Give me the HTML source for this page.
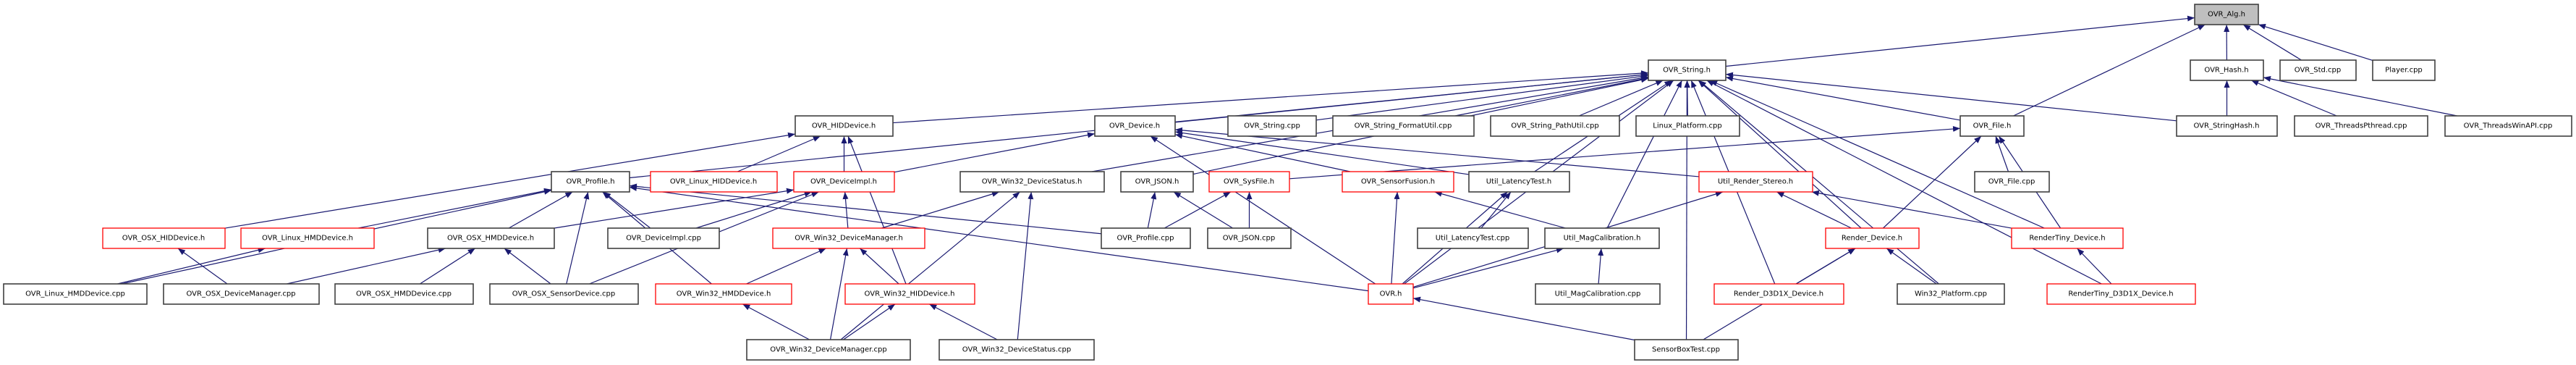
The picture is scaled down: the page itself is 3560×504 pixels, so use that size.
<!DOCTYPE html>
<html><head><meta charset="utf-8"><style>
html,body{margin:0;padding:0;background:#fff;width:3560px;height:504px;overflow:hidden}
svg{display:block}
text{font-family:"DejaVu Sans","Liberation Sans",sans-serif;font-size:10px;text-anchor:middle;dominant-baseline:central;fill:#000}
.b{fill:#fff;stroke:#404040;stroke-width:1.6}
.r{fill:#fff;stroke:#ff0000;stroke-width:1.3}
.g{fill:#bfbfbf;stroke:#404040;stroke-width:1.6}
</style></head><body>
<svg id="s" width="3560" height="504" viewBox="0 0 3560 504" xmlns="http://www.w3.org/2000/svg">
<defs><marker id="a" viewBox="0 0 10 8" refX="10" refY="4" markerWidth="10" markerHeight="8" markerUnits="userSpaceOnUse" orient="auto"><path d="M0,0L10,4L0,8z" fill="#191970"/></marker></defs>
<g id="e" fill="none" stroke="#191970" stroke-width="1.2"></g>
<g id="n">
<rect class="g" x="3033" y="6" width="88" height="28"/><text x="3077" y="20">OVR_Alg.h</text>
<rect class="b" x="2278" y="83" width="107" height="28"/><text x="2331" y="97">OVR_String.h</text>
<rect class="b" x="3027" y="83" width="101" height="28"/><text x="3077" y="97">OVR_Hash.h</text>
<rect class="b" x="3151" y="83" width="105" height="28"/><text x="3203" y="97">OVR_Std.cpp</text>
<rect class="b" x="3279" y="83" width="86" height="28"/><text x="3322" y="97">Player.cpp</text>
<rect class="b" x="1099" y="160" width="135" height="28"/><text x="1166" y="174">OVR_HIDDevice.h</text>
<rect class="b" x="1513" y="160" width="111" height="28"/><text x="1568" y="174">OVR_Device.h</text>
<rect class="b" x="1697" y="160" width="122" height="28"/><text x="1758" y="174">OVR_String.cpp</text>
<rect class="b" x="1842" y="160" width="195" height="28"/><text x="1939" y="174">OVR_String_FormatUtil.cpp</text>
<rect class="b" x="2060" y="160" width="178" height="28"/><text x="2149" y="174">OVR_String_PathUtil.cpp</text>
<rect class="b" x="2261" y="160" width="143" height="28"/><text x="2332" y="174">Linux_Platform.cpp</text>
<rect class="b" x="2709" y="160" width="88" height="28"/><text x="2753" y="174">OVR_File.h</text>
<rect class="b" x="3008" y="160" width="139" height="28"/><text x="3077" y="174">OVR_StringHash.h</text>
<rect class="b" x="3171" y="160" width="184" height="28"/><text x="3263" y="174">OVR_ThreadsPthread.cpp</text>
<rect class="b" x="3379" y="160" width="175" height="28"/><text x="3466" y="174">OVR_ThreadsWinAPI.cpp</text>
<rect class="b" x="762" y="237" width="108" height="28"/><text x="816" y="251">OVR_Profile.h</text>
<rect class="r" x="899" y="237" width="175" height="28"/><text x="986" y="251">OVR_Linux_HIDDevice.h</text>
<rect class="r" x="1097" y="237" width="139" height="28"/><text x="1166" y="251">OVR_DeviceImpl.h</text>
<rect class="b" x="1327" y="237" width="199" height="28"/><text x="1426" y="251">OVR_Win32_DeviceStatus.h</text>
<rect class="b" x="1549" y="237" width="100" height="28"/><text x="1599" y="251">OVR_JSON.h</text>
<rect class="r" x="1671" y="237" width="111" height="28"/><text x="1726" y="251">OVR_SysFile.h</text>
<rect class="r" x="1855" y="237" width="154" height="28"/><text x="1932" y="251">OVR_SensorFusion.h</text>
<rect class="b" x="2030" y="237" width="139" height="28"/><text x="2099" y="251">Util_LatencyTest.h</text>
<rect class="r" x="2348" y="237" width="157" height="28"/><text x="2426" y="251">Util_Render_Stereo.h</text>
<rect class="b" x="2729" y="237" width="103" height="28"/><text x="2780" y="251">OVR_File.cpp</text>
<rect class="r" x="142" y="315" width="169" height="28"/><text x="226" y="329">OVR_OSX_HIDDevice.h</text>
<rect class="r" x="333" y="315" width="184" height="28"/><text x="425" y="329">OVR_Linux_HMDDevice.h</text>
<rect class="b" x="591" y="315" width="175" height="28"/><text x="678" y="329">OVR_OSX_HMDDevice.h</text>
<rect class="b" x="840" y="315" width="154" height="28"/><text x="917" y="329">OVR_DeviceImpl.cpp</text>
<rect class="r" x="1068" y="315" width="210" height="28"/><text x="1173" y="329">OVR_Win32_DeviceManager.h</text>
<rect class="b" x="1522" y="315" width="123" height="28"/><text x="1583" y="329">OVR_Profile.cpp</text>
<rect class="b" x="1669" y="315" width="115" height="28"/><text x="1726" y="329">OVR_JSON.cpp</text>
<rect class="b" x="1959" y="315" width="153" height="28"/><text x="2035" y="329">Util_LatencyTest.cpp</text>
<rect class="b" x="2135" y="315" width="158" height="28"/><text x="2214" y="329">Util_MagCalibration.h</text>
<rect class="r" x="2523" y="315" width="129" height="28"/><text x="2587" y="329">Render_Device.h</text>
<rect class="r" x="2780" y="315" width="154" height="28"/><text x="2857" y="329">RenderTiny_Device.h</text>
<rect class="b" x="5" y="392" width="198" height="28"/><text x="104" y="406">OVR_Linux_HMDDevice.cpp</text>
<rect class="b" x="226" y="392" width="215" height="28"/><text x="333" y="406">OVR_OSX_DeviceManager.cpp</text>
<rect class="b" x="463" y="392" width="191" height="28"/><text x="558" y="406">OVR_OSX_HMDDevice.cpp</text>
<rect class="b" x="677" y="392" width="205" height="28"/><text x="779" y="406">OVR_OSX_SensorDevice.cpp</text>
<rect class="r" x="906" y="392" width="188" height="28"/><text x="1000" y="406">OVR_Win32_HMDDevice.h</text>
<rect class="r" x="1168" y="392" width="179" height="28"/><text x="1257" y="406">OVR_Win32_HIDDevice.h</text>
<rect class="r" x="1891" y="392" width="62" height="28"/><text x="1922" y="406">OVR.h</text>
<rect class="b" x="2122" y="392" width="172" height="28"/><text x="2208" y="406">Util_MagCalibration.cpp</text>
<rect class="r" x="2369" y="392" width="179" height="28"/><text x="2458" y="406">Render_D3D1X_Device.h</text>
<rect class="b" x="2622" y="392" width="148" height="28"/><text x="2696" y="406">Win32_Platform.cpp</text>
<rect class="r" x="2829" y="392" width="205" height="28"/><text x="2931" y="406">RenderTiny_D3D1X_Device.h</text>
<rect class="b" x="1032" y="469" width="226" height="28"/><text x="1145" y="483">OVR_Win32_DeviceManager.cpp</text>
<rect class="b" x="1298" y="469" width="214" height="28"/><text x="1405" y="483">OVR_Win32_DeviceStatus.cpp</text>
<rect class="b" x="2259" y="469" width="143" height="28"/><text x="2330" y="483">SensorBoxTest.cpp</text>
</g>
</svg>
<script>
var B={};
document.querySelectorAll('#n rect').forEach(function(r){var t=r.nextElementSibling.textContent;B[t]=[+r.getAttribute('x'),+r.getAttribute('y'),+r.getAttribute('width'),+r.getAttribute('height')];});
function clip(b,dx,dy){var cx=b[0]+b[2]/2,cy=b[1]+b[3]/2,hw=b[2]/2,hh=b[3]/2;var s=Math.min(dx?hw/Math.abs(dx):1e9,dy?hh/Math.abs(dy):1e9);return [cx+dx*s,cy+dy*s];}
var E=[
["OVR_Alg.h",["OVR_String.h","OVR_Hash.h","OVR_Std.cpp","Player.cpp","OVR_File.h"]],
["OVR_Hash.h",["OVR_StringHash.h","OVR_ThreadsPthread.cpp","OVR_ThreadsWinAPI.cpp"]],
["OVR_String.h",["OVR_HIDDevice.h","OVR_Device.h","OVR_String.cpp","OVR_String_FormatUtil.cpp","OVR_String_PathUtil.cpp","Linux_Platform.cpp","OVR_Profile.h","OVR_Win32_DeviceStatus.h","OVR_JSON.h","Util_LatencyTest.h","OVR.h","Util_MagCalibration.h","SensorBoxTest.cpp","Render_Device.h","Render_D3D1X_Device.h","Win32_Platform.cpp","RenderTiny_Device.h","RenderTiny_D3D1X_Device.h","OVR_File.h","OVR_StringHash.h"]],
["OVR_File.h",["Render_Device.h","RenderTiny_Device.h","OVR_File.cpp","OVR_SysFile.h"]],
["OVR_HIDDevice.h",["OVR_OSX_HIDDevice.h","OVR_Linux_HIDDevice.h","OVR_DeviceImpl.h","OVR_Win32_HIDDevice.h"]],
["OVR_Device.h",["OVR_DeviceImpl.h","OVR_SensorFusion.h","Util_LatencyTest.h","OVR.h","Util_Render_Stereo.h"]],
["OVR_Profile.h",["OVR_Linux_HMDDevice.h","OVR_OSX_HMDDevice.h","OVR_DeviceImpl.cpp","OVR_Win32_HMDDevice.h","OVR_Linux_HMDDevice.cpp","OVR.h","OVR_Profile.cpp","OVR_OSX_SensorDevice.cpp"]],
["OVR_DeviceImpl.h",["OVR_OSX_HMDDevice.h","OVR_DeviceImpl.cpp","OVR_Win32_DeviceManager.h","OVR_OSX_SensorDevice.cpp"]],
["OVR_OSX_HMDDevice.h",["OVR_OSX_DeviceManager.cpp","OVR_OSX_HMDDevice.cpp","OVR_OSX_SensorDevice.cpp"]],
["OVR_OSX_HIDDevice.h",["OVR_OSX_DeviceManager.cpp"]],
["OVR_Linux_HMDDevice.h",["OVR_Linux_HMDDevice.cpp"]],
["OVR_Win32_DeviceStatus.h",["OVR_Win32_DeviceManager.h","OVR_Win32_DeviceManager.cpp","OVR_Win32_DeviceStatus.cpp"]],
["OVR_Win32_DeviceManager.h",["OVR_Win32_HMDDevice.h","OVR_Win32_DeviceManager.cpp","OVR_Win32_HIDDevice.h"]],
["OVR_Win32_HMDDevice.h",["OVR_Win32_DeviceManager.cpp"]],
["OVR_Win32_HIDDevice.h",["OVR_Win32_DeviceManager.cpp","OVR_Win32_DeviceStatus.cpp"]],
["OVR_JSON.h",["OVR_Profile.cpp","OVR_JSON.cpp"]],
["OVR_SysFile.h",["OVR_Profile.cpp","OVR_JSON.cpp"]],
["OVR_SensorFusion.h",["OVR.h","Util_MagCalibration.h"]],
["Util_LatencyTest.h",["OVR.h","Util_LatencyTest.cpp"]],
["Util_MagCalibration.h",["OVR.h","Util_MagCalibration.cpp"]],
["Util_Render_Stereo.h",["OVR.h","Render_Device.h","RenderTiny_Device.h"]],
["Render_Device.h",["Render_D3D1X_Device.h","Win32_Platform.cpp","SensorBoxTest.cpp"]],
["OVR.h",["SensorBoxTest.cpp"]],
["RenderTiny_Device.h",["RenderTiny_D3D1X_Device.h"]]];
var g=document.getElementById('e'),NS="http://www.w3.org/2000/svg";
E.forEach(function(p){var P=B[p[0]];p[1].forEach(function(c){var C=B[c];if(!P||!C)return;
var pcx=P[0]+P[2]/2,pcy=P[1]+P[3]/2,ccx=C[0]+C[2]/2,ccy=C[1]+C[3]/2;
var s=clip(C,pcx-ccx,pcy-ccy),t=clip(P,ccx-pcx,ccy-pcy);
var l=document.createElementNS(NS,'line');l.setAttribute('x1',s[0]);l.setAttribute('y1',s[1]);l.setAttribute('x2',t[0]);l.setAttribute('y2',t[1]);l.setAttribute('marker-end','url(#a)');g.appendChild(l);});});
</script>
</body></html>
